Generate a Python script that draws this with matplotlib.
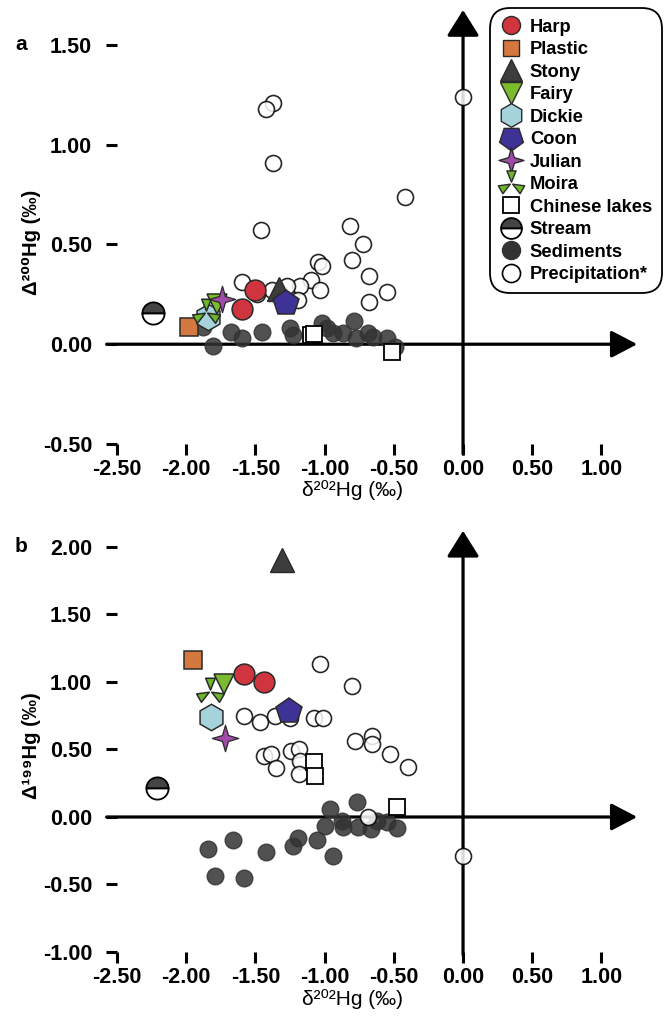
import numpy as np
import matplotlib
matplotlib.use('Agg')
import matplotlib.pyplot as plt
from matplotlib.lines import Line2D
from matplotlib.path import Path

plt.rcParams['font.family'] = ['Liberation Sans', 'DejaVu Sans']
plt.rcParams['font.weight'] = 'bold'

# ---- data: panel a (d202Hg vs D200Hg) ----
precip_a_x = [-1.37, -1.42, -1.37, -0.42, -1.46, -0.82, -0.72, -0.80, -1.05, -1.02, -0.68,
              -0.55, -0.68, -1.60, -1.10, -1.03, -1.18, -1.27, -1.38, -1.49, -1.19, 0.0]
precip_a_y = [1.21, 1.18, 0.91, 0.74, 0.57, 0.59, 0.50, 0.42, 0.41, 0.39, 0.34,
              0.26, 0.21, 0.31, 0.32, 0.27, 0.29, 0.29, 0.27, 0.25, 0.22, 1.24]
sed_a_x = [-1.81, -1.68, -1.60, -1.45, -1.25, -1.23, -1.02, -0.98, -0.94, -0.87, -0.79,
           -0.77, -0.69, -0.65, -0.55, -0.49, -1.88]
sed_a_y = [-0.01, 0.06, 0.03, 0.06, 0.08, 0.045, 0.105, 0.08, 0.055, 0.055, 0.115,
           0.03, 0.055, 0.035, 0.03, -0.015, 0.085]
lakes_a_x = [-1.10, -1.08, -0.51]
lakes_a_y = [0.045, 0.05, -0.04]
stream_a = (-2.24, 0.155)
harp_a_x, harp_a_y = [-1.50, -1.60], [0.27, 0.175]
plastic_a = (-1.98, 0.085)
stony_a = (-1.33, 0.275)
fairy_a = (-1.78, 0.20)
dickie_a = (-1.84, 0.135)
coon_a = (-1.28, 0.205)
julian_a = (-1.74, 0.225)
moira_a = (-1.86, 0.16)

# ---- data: panel b (d202Hg vs D199Hg) ----
precip_b_x = [-1.03, -0.80, -1.58, -1.47, -1.36, -1.25, -1.08, -1.01, -0.78, -0.66, -0.66,
              -0.53, -0.40, -1.44, -1.39, -1.35, -1.24, -1.185, -1.18, -1.185, -0.69, 0.0]
precip_b_y = [1.13, 0.97, 0.75, 0.70, 0.75, 0.73, 0.73, 0.73, 0.56, 0.60, 0.54,
              0.47, 0.37, 0.45, 0.47, 0.36, 0.49, 0.50, 0.415, 0.32, 0.0, -0.29]
sed_b_x = [-1.84, -1.66, -1.79, -1.58, -1.42, -1.23, -1.19, -1.055, -0.94, -0.96, -1.00,
           -0.875, -0.865, -0.766, -0.76, -0.665, -0.62, -0.55, -0.477]
sed_b_y = [-0.24, -0.17, -0.44, -0.45, -0.26, -0.215, -0.156, -0.17, -0.29, 0.06, -0.067,
           -0.03, -0.074, 0.11, -0.074, -0.089, -0.03, -0.037, -0.081]
lakes_b_x = [-1.08, -1.07, -0.48]
lakes_b_y = [0.41, 0.30, 0.075]
stream_b = (-2.21, 0.215)
harp_b_x, harp_b_y = [-1.58, -1.44], [1.06, 1.00]
plastic_b = (-1.95, 1.163)
stony_b = (-1.31, 1.90)
fairy_b = (-1.73, 0.985)
dickie_b = (-1.82, 0.74)
coon_b = (-1.26, 0.785)
julian_b = (-1.72, 0.585)
moira_b = (-1.83, 0.93)

xticks = [-2.5, -2.0, -1.5, -1.0, -0.5, 0.0, 0.5, 1.0]
yticks_a = [-0.5, 0.0, 0.5, 1.0, 1.5]
yticks_b = [-1.0, -0.5, 0.0, 0.5, 1.0, 1.5, 2.0]

# custom markers
def propeller():
    verts, codes = [], []
    for th in (90, 210, 330):
        t = np.deg2rad(th)
        w = np.deg2rad(20)
        verts += [(0.1 * np.cos(t), 0.1 * np.sin(t)), (np.cos(t - w), np.sin(t - w)),
                  (np.cos(t + w), np.sin(t + w)), (0, 0)]
        codes += [Path.MOVETO, Path.LINETO, Path.LINETO, Path.CLOSEPOLY]
    return Path(verts, codes)

moira_marker = propeller()
star4 = Path.unit_regular_star(4, 0.32)

c_harp = '#d0343e'
c_plastic = '#d5783f'
c_stony = '#3d3d3d'
c_fairy = '#7cba2e'
c_dickie = '#a6d3db'
c_coon = '#3f3296'
c_julian = '#a04ba5'
c_moira = '#6cb52c'
c_sed = '#333333'
edge = '#2a2a2a'

fig = plt.figure(figsize=(6.67, 10.30), dpi=100)
ax_a = fig.add_axes([117 / 667, (1030 - 444) / 1030, 526 / 667, 439 / 1030])
ax_b = fig.add_axes([117 / 667, (1030 - 952) / 1030, 526 / 667, 425 / 1030])


def draw(ax, d, ylo, yhi, vlo, vtip):
    ax.set_xlim(-2.5, 1.3)
    ax.set_ylim(ylo, yhi)
    for s in ax.spines.values():
        s.set_visible(False)
    # axes arrows
    ax.annotate('', xy=(1.258, 0), xytext=(-2.575, 0), annotation_clip=False,
                arrowprops=dict(arrowstyle='-|>,head_length=0.8,head_width=0.42',
                                mutation_scale=20, lw=2.3, color='black', shrinkA=0, shrinkB=0),
                zorder=1.5)
    ax.annotate('', xy=(0, vtip), xytext=(0, vlo), annotation_clip=False,
                arrowprops=dict(arrowstyle='-|>,head_length=0.8,head_width=0.5',
                                mutation_scale=20, lw=2.3, color='black', shrinkA=0, shrinkB=0),
                zorder=1.5)
    ax.plot(d['sx'], d['sy'], 'o', ms=12, color=c_sed, alpha=0.85, mec=c_sed, zorder=2)
    ax.plot(d['px'], d['py'], 'o', ms=11.5, mfc='white', mec='black', mew=1.2, alpha=0.85, zorder=3)
    ax.plot(d['lx'], d['ly'], 's', ms=11.5, mfc='white', mec='black', mew=1.3, zorder=3)
    ax.plot(*d['stream'], 'o', ms=16, fillstyle='top', mfc='#444444', mfcalt='white',
            mec='black', mew=1.3, zorder=4)
    ax.plot(*d['stony'], '^', ms=17, color=c_stony, mec=edge, mew=1, zorder=4)
    ax.plot(d['hx'], d['hy'], 'o', ms=15, color=c_harp, mec=edge, mew=1.1, zorder=5)
    ax.plot(*d['coon'], 'p', ms=19, color=c_coon, mec=edge, mew=1.1, zorder=5)
    ax.plot(*d['plastic'], 's', ms=13.5, color=c_plastic, mec=edge, mew=1.1, zorder=5)
    ax.plot(*d['dickie'], 'h', ms=19, color=c_dickie, mec=edge, mew=1.1, zorder=5)
    ax.plot(*d['moira'], marker=moira_marker, ms=20, color=c_moira, mec=edge, mew=1.1,
            ls='none', zorder=6)
    ax.plot(*d['fairy'], 'v', ms=15, color=c_fairy, mec=edge, mew=1.1, zorder=6)
    ax.plot(*d['julian'], marker=star4, ms=19, color=c_julian, mec=edge, mew=0.9,
            ls='none', zorder=7)
    ax.set_xticks(xticks)
    ax.set_xticklabels(['%.2f' % v for v in xticks])
    ax.tick_params(axis='both', direction='out', length=8, width=2.2, labelsize=15.5)
    ax.tick_params(axis='y', pad=10)
    ax.tick_params(axis='x', pad=3)


draw(ax_a, dict(sx=sed_a_x, sy=sed_a_y, px=precip_a_x, py=precip_a_y, lx=lakes_a_x, ly=lakes_a_y,
                stream=stream_a, stony=stony_a, hx=harp_a_x, hy=harp_a_y, coon=coon_a,
                plastic=plastic_a, dickie=dickie_a, moira=moira_a, fairy=fairy_a, julian=julian_a),
     -0.5, 1.70, -0.55, 1.675)
ax_a.set_yticks(yticks_a)
ax_a.set_yticklabels(['%.2f' % v for v in yticks_a])

draw(ax_b, dict(sx=sed_b_x, sy=sed_b_y, px=precip_b_x, py=precip_b_y, lx=lakes_b_x, ly=lakes_b_y,
                stream=stream_b, stony=stony_b, hx=harp_b_x, hy=harp_b_y, coon=coon_b,
                plastic=plastic_b, dickie=dickie_b, moira=moira_b, fairy=fairy_b, julian=julian_b),
     -1.0, 2.148, -1.02, 2.12)
ax_b.set_yticks(yticks_b)
ax_b.set_yticklabels(['%.2f' % v for v in yticks_b])

ax_a.set_ylabel('Δ²⁰⁰Hg (‰)', fontsize=14.5, fontweight='bold')
ax_a.yaxis.set_label_coords(-0.145, 0.46)
ax_a.set_xlabel('δ²⁰²Hg (‰)', fontsize=15, fontweight='normal')
ax_a.xaxis.set_label_coords(0.447, -0.083)
ax_b.set_ylabel('Δ¹⁹⁹Hg (‰)', fontsize=14.5, fontweight='bold')
ax_b.yaxis.set_label_coords(-0.145, 0.485)
ax_b.set_xlabel('δ²⁰²Hg (‰)', fontsize=15, fontweight='normal')
ax_b.xaxis.set_label_coords(0.447, -0.086)

fig.text(15 / 667, 1 - 45 / 1030, 'a', fontsize=15, fontweight='bold', va='center')
fig.text(15 / 667, 1 - 547 / 1030, 'b', fontsize=15, fontweight='bold', va='center')

handles = [
    Line2D([], [], ls='none', marker='o', ms=13, color=c_harp, mec=edge),
    Line2D([], [], ls='none', marker='s', ms=12, color=c_plastic, mec=edge),
    Line2D([], [], ls='none', marker='^', ms=16, color=c_stony, mec=edge),
    Line2D([], [], ls='none', marker='v', ms=16, color=c_fairy, mec=edge),
    Line2D([], [], ls='none', marker='h', ms=17, color=c_dickie, mec=edge),
    Line2D([], [], ls='none', marker=(5, 0, 180), ms=18, color=c_coon, mec=edge),
    Line2D([], [], ls='none', marker=star4, ms=18, color=c_julian, mec=edge),
    Line2D([], [], ls='none', marker=moira_marker, ms=19, color=c_moira, mec=edge),
    Line2D([], [], ls='none', marker='s', ms=12, mfc='white', mec='black', mew=1.3),
    Line2D([], [], ls='none', marker='o', ms=15, fillstyle='top', mfc='#444444',
           mfcalt='white', mec='black', mew=1.3),
    Line2D([], [], ls='none', marker='o', ms=13, color=c_sed, mec=c_sed),
    Line2D([], [], ls='none', marker='o', ms=13, mfc='white', mec='black', mew=1.2),
]
labels = ['Harp', 'Plastic', 'Stony', 'Fairy', 'Dickie', 'Coon', 'Julian', 'Moira',
          'Chinese lakes', 'Stream', 'Sediments', 'Precipitation*']
leg = ax_a.legend(handles, labels, loc='upper left', bbox_to_anchor=(495 / 667, 1 - 14 / 1030),
                  bbox_transform=fig.transFigure, borderaxespad=0,
                  prop=dict(size=13.2, weight='bold'),
                  handlelength=1.2, handletextpad=0.45, borderpad=0.25, labelspacing=0.3,
                  frameon=True, fancybox=True, framealpha=1)
leg.get_frame().set_edgecolor('black')
leg.get_frame().set_linewidth(1.3)
leg.get_frame().set_boxstyle('round', pad=0.3, rounding_size=1.1)

fig.savefig('out.png', dpi=100)
